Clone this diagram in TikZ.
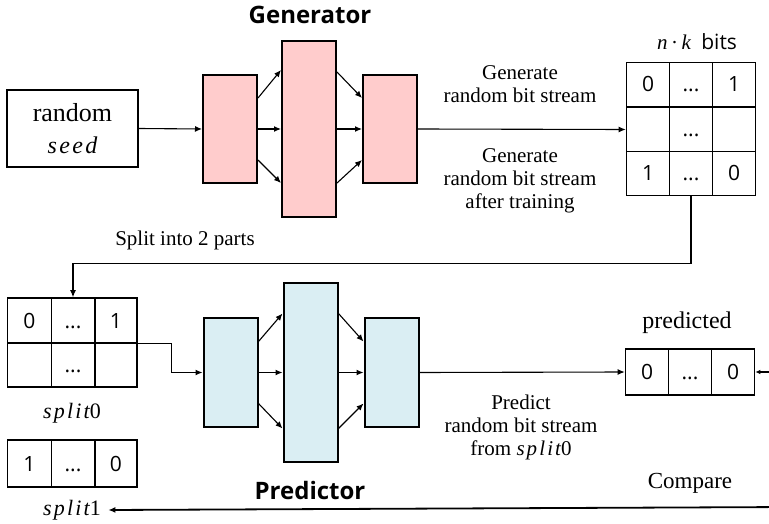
\documentclass[tikz,border=0pt]{standalone}
\usepackage{fontspec}
\setmainfont{Liberation Serif}
\setsansfont{Open Sans}
\newfontfamily\varfont[LetterSpace=10]{Liberation Serif}
\newcommand\var[1]{{\varfont\itshape #1}}
\usetikzlibrary{arrows.meta}
\definecolor{genfill}{RGB}{255,204,204}
\definecolor{predfill}{RGB}{218,238,243}
\tikzset{
  arr/.style={line width=1.1pt, -{Latex[length=7pt,width=6pt]}},
  layer/.style={draw, line width=2pt, minimum width=54pt, inner sep=0pt},
  genlayer/.style={layer, fill=genfill},
  predlayer/.style={layer, fill=predfill},
  cell/.style={draw, line width=1.6pt, minimum width=43pt, minimum height=44pt,
    inner sep=0pt, text height=15pt, text depth=0pt,
    font=\sffamily\fontsize{21}{24}\selectfont},
  caption/.style={align=center, font=\fontsize{21}{23}\selectfont},
  title/.style={font=\sffamily\bfseries\fontsize{24}{28}\selectfont},
  varlab/.style={font=\fontsize{22}{26}\selectfont},
}
\begin{document}
\begin{tikzpicture}[x=1pt,y=-1pt]
\useasboundingbox (0,0) rectangle (769,524);
\clip (0,0) rectangle (769,524);

% --- Generator ---
\node[draw, line width=2pt, minimum width=131pt, minimum height=77pt, align=center,
  font=\fontsize{26}{32}\selectfont] (seed) at (72.5,128.5)
  {random\\{\fontsize{24}{32}\selectfont\var{seed}}};
\node[genlayer, minimum height=108pt] (gA) at (230,129) {};
\node[genlayer, minimum height=176pt] (gB) at (309,129) {};
\node[genlayer, minimum height=108pt] (gC) at (390,129) {};
\node[title] (gtitle) at (310,15) {Generator};

\draw[arr] (seed.east) -- (gA.west);
\draw[arr] ([yshift=31pt]gA.east) -- ([yshift=59pt]gB.west);
\draw[arr] (gA.east) -- (gB.west);
\draw[arr] ([yshift=-31pt]gA.east) -- ([yshift=-54pt]gB.west);
\draw[arr] ([yshift=57pt]gB.east) -- ([yshift=31pt]gC.west);
\draw[arr] (gB.east) -- (gC.west);
\draw[arr] ([yshift=-54pt]gB.east) -- ([yshift=-31pt]gC.west);

% n*k bit grid
\node[cell] (g11) at (648,84.5) {0};
\node[cell] (g12) at (691,84.5) {...};
\node[cell] (g13) at (734,84.5) {1};
\node[cell] (g21) at (648,129.5) {};
\node[cell] (g22) at (691,129.5) {...};
\node[cell] (g23) at (734,129.5) {};
\node[cell] (g31) at (648,173.5) {1};
\node[cell] (g32) at (691,173.5) {...};
\node[cell] (g33) at (734,173.5) {0};
\node[font=\fontsize{21}{24}\selectfont] (nk) at (697,42)
  {\var{n}\,·\,\var{k}\ \ \sffamily bits};

\draw[arr] (gC.east) -- (g21.west);
\node[caption] (gen1) at (520,84) {Generate\\random bit stream};
\node[caption] (gen2) at (520,181) {Generate\\random bit stream\\after training};

% --- split ---
\node[cell, minimum width=44pt, minimum height=45pt] (s01) at (29.5,320.5) {0};
\node[cell, minimum width=43pt, minimum height=45pt] (s02) at (73,320.5) {...};
\node[cell, minimum width=42pt, minimum height=45pt] (s03) at (116,320.5) {1};
\node[cell, minimum width=44pt, minimum height=44pt] (s04) at (29.5,365) {};
\node[cell, minimum width=43pt, minimum height=44pt] (s05) at (73,365) {...};
\node[cell, minimum width=42pt, minimum height=44pt] (s06) at (116,365) {};
\node[varlab] (s0lab) at (72,413) {\var{split}0};

\node[cell, minimum width=44pt, minimum height=47pt] (s11) at (29.5,463.5) {1};
\node[cell, minimum width=43pt, minimum height=47pt] (s12) at (73,463.5) {...};
\node[cell, minimum width=42pt, minimum height=47pt] (s13) at (116,463.5) {0};
\node[varlab] (s1lab) at (72,510) {\var{split}1};

\draw[arr] (g32.south) -- ++(0,67) -| (s02.north);
\node[font=\fontsize{21}{24}\selectfont] (splitlab) at (185,240) {Split into 2 parts};

% --- Predictor ---
\node[predlayer, minimum height=109pt] (pA) at (230.5,372.5) {};
\node[predlayer, minimum height=179pt] (pB) at (310.5,372.5) {};
\node[predlayer, minimum height=109pt] (pC) at (391.5,372.5) {};
\node[title] (ptitle) at (310,490) {Predictor};

\draw[arr] (s03.south east) -- ++(34,0) |- (pA.west);
\draw[arr] ([yshift=31pt]pA.east) -- ([yshift=59pt]pB.west);
\draw[arr] (pA.east) -- (pB.west);
\draw[arr] ([yshift=-31pt]pA.east) -- ([yshift=-56pt]pB.west);
\draw[arr] ([yshift=59pt]pB.east) -- ([yshift=31pt]pC.west);
\draw[arr] (pB.east) -- (pC.west);
\draw[arr] ([yshift=-56pt]pB.east) -- ([yshift=-31pt]pC.west);

% predicted bits
\node[cell, minimum height=46pt] (p1) at (647,372) {0};
\node[cell, minimum height=46pt] (p2) at (690,372) {...};
\node[cell, minimum height=46pt] (p3) at (733,372) {0};
\node[font=\fontsize{24}{28}\selectfont] (predlab) at (687,323) {predicted};

\draw[arr] (pC.east) -- (p1.west);
\node[caption] (predcap) at (521,427) {Predict\\random bit stream\\from \var{split}0};

% comparison loop on the right
\coordinate (cmpA) at (790,372);
\coordinate (cmpB) at (790,507);
\draw[line width=1.1pt, -{Latex[length=5pt,width=4.5pt]}] (cmpA) -- (p3.east);
\draw[line width=1.8pt, -{Latex[length=7pt,width=6pt]}] (cmpB) -- ([xshift=4pt]s1lab.east);
\node[font=\fontsize{23}{26}\selectfont] (cmplab) at (690,483) {Compare};
\end{tikzpicture}
\end{document}
